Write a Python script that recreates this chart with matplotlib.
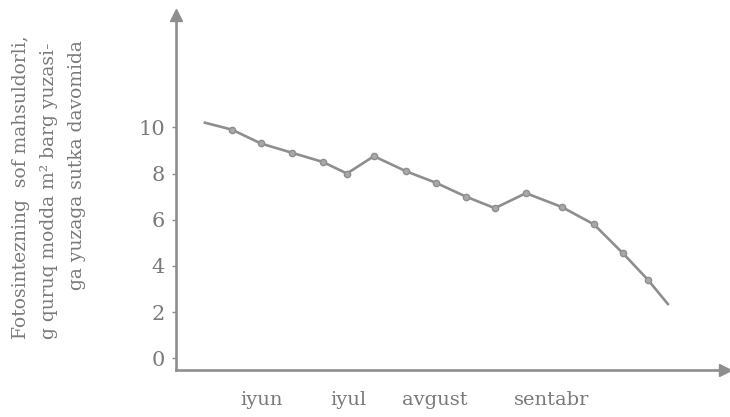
import matplotlib.pyplot as plt

# positions along the season (arbitrary units) and values
x = [29, 56, 85, 116, 147, 171, 198, 230, 260, 290, 319, 350, 386, 418, 447, 472, 492]
y = [10.2, 9.9, 9.3, 8.9, 8.5, 8.0, 8.75, 8.1, 7.6, 7.0, 6.5, 7.15, 6.55, 5.8, 4.55, 3.4, 2.35]

months = ['iyun', 'iyul', 'avgust', 'sentabr']
month_pos = [86, 172, 259, 376]
yticks = [0, 2, 4, 6, 8, 10]

grey = '#8e8e8e'
txt = '#7a7a7a'
plt.rcParams['font.family'] = 'DejaVu Serif'

fig = plt.figure(figsize=(7.3, 4.17), dpi=100)
ax = fig.add_axes([0.241, 0.113, 0.752, 0.852])

ax.plot(x, y, color=grey, lw=1.9, marker='o', ms=4.5, mfc='#a8a8a8', mec=grey,
        markevery=list(range(1, len(x) - 1)))

ax.set_xlim(0, 549)
ax.set_ylim(-0.5, 14.88)

for s in ['top', 'right']:
    ax.spines[s].set_visible(False)
for s in ['left', 'bottom']:
    ax.spines[s].set_color(grey)
    ax.spines[s].set_linewidth(1.9)

# arrow heads
ax.plot(1, 0, '>', color=grey, ms=8, transform=ax.transAxes, clip_on=False)
ax.plot(0, 1, '^', color=grey, ms=8, transform=ax.transAxes, clip_on=False)

ax.set_yticks(yticks)
ax.set_yticklabels([str(v) for v in yticks], fontsize=15, color=txt)
ax.tick_params(axis='y', length=3, width=1, color=grey, pad=5)
ax.set_xticks(month_pos)
ax.set_xticklabels(months, fontsize=14, color=txt)
ax.tick_params(axis='x', length=0, pad=15)

lines = ['Fotosintezning  sof mahsuldorli,',
         'g quruq modda m² barg yuzasi-',
         'ga yuzaga sutka davomida']
lx = [21, 49, 77]
ly = [187, 191, 165]
for t, px, py in zip(lines, lx, ly):
    fig.text(px / 730, 1 - py / 417, t, rotation=90, ha='center', va='center',
             fontsize=13.5, color=txt)

fig.savefig('out.png', dpi=100)
